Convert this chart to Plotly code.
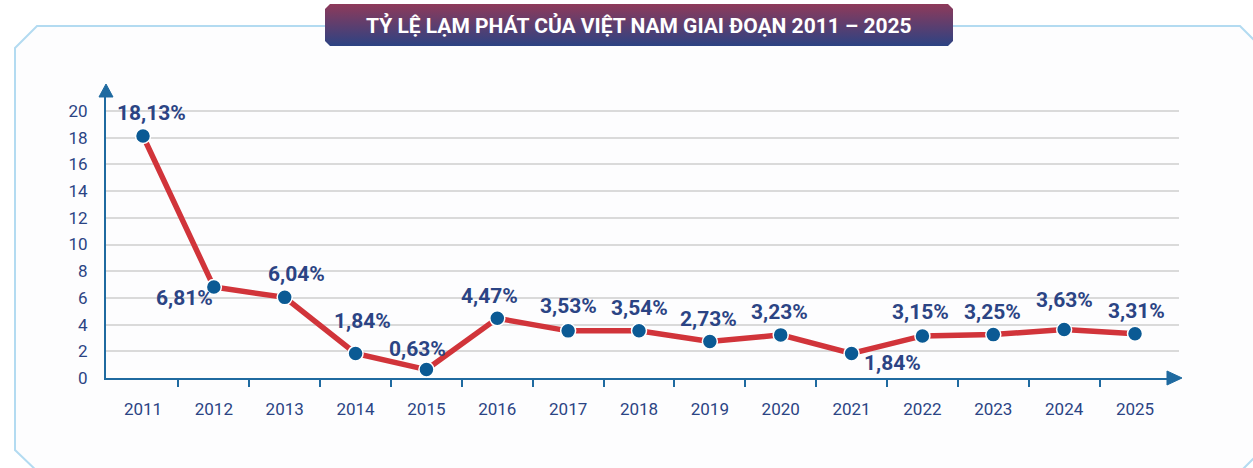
import plotly.graph_objects as go

W, H = 1253, 468          # reference canvas (design units)
FIG_H = 478               # figure height so that the photographed page matches H

years = ["2011", "2012", "2013", "2014", "2015", "2016", "2017", "2018",
         "2019", "2020", "2021", "2022", "2023", "2024", "2025"]
inflation = [18.13, 6.81, 6.04, 1.84, 0.63, 4.47, 3.53, 3.54,
             2.73, 3.23, 1.84, 3.15, 3.25, 3.63, 3.31]
labels = ["18,13%", "6,81%", "6,04%", "1,84%", "0,63%", "4,47%", "3,53%", "3,54%",
          "2,73%", "3,23%", "1,84%", "3,15%", "3,25%", "3,63%", "3,31%"]
title_text = "TỶ LỆ LẠM PHÁT CỦA VIỆT NAM GIAI ĐOẠN 2011 – 2025"
y_ticks = [0, 2, 4, 6, 8, 10, 12, 14, 16, 18, 20]

# label offsets (style, pixels)
label_dx = [8, -29, 12, 7, -9, -8, 0, 0, -1, -1, 41, -2, -1, 0, 1]
label_dy = [23, -11, 23, 32, 21, 22, 25, 23, 23, 23, -10, 24, 23, 30, 23]

NAVY = "#2b4484"
AXIS = "#1f6aa0"


def px(x):
    return x / W


def py(y):
    return 1 - y / H


idx = list(range(len(years)))
x_left, x_right = 106, 1179
y_bottom, y_top = 378, 92
unit_x = (1135 - 143) / 14
unit_y = (y_bottom - 111) / 20
x_range = [-(143 - x_left) / unit_x, 14 + (x_right - 1135) / unit_x]
y_range = [0, (y_bottom - y_top) / unit_y]

fig = go.Figure()

fig.add_trace(go.Scatter(
    x=idx, y=inflation, mode="lines+markers",
    line=dict(color="#d1343a", width=5.5),
    marker=dict(size=15, color="#0b5a94", line=dict(color="white", width=1.5)),
    hoverinfo="skip", showlegend=False, xaxis="x", yaxis="y",
))

# title box with vertical gradient (pixel coordinate overlay axes)
bx0, bx1, by0, by1, c = 325, 953, 4, 46, 5
box_x = [bx0 + c, bx1 - c, bx1, bx1, bx1 - c, bx0 + c, bx0, bx0, bx0 + c]
box_y = [by0, by0, by0 + c, by1 - c, by1, by1, by1 - c, by0 + c, by0]
fig.add_trace(go.Scatter(
    x=box_x, y=box_y, mode="lines", line=dict(width=0, color="rgba(0,0,0,0)"),
    fill="toself",
    fillgradient=dict(type="vertical",
                      colorscale=[[0, "#8e3a5a"], [1, "#2a4384"]],
                      start=by0, stop=by1),
    hoverinfo="skip", showlegend=False, xaxis="x2", yaxis="y2",
))

for i, (v, t) in enumerate(zip(inflation, labels)):
    fig.add_annotation(x=i, y=v, xref="x", yref="y", text=t, showarrow=False,
                       xshift=label_dx[i], yshift=label_dy[i],
                       xanchor="center", yanchor="middle",
                       font=dict(family="Roboto", size=21, color=NAVY, weight="bold"))

fig.add_annotation(x=px(639), y=py(25), xref="paper", yref="paper", text=title_text,
                   showarrow=False, xanchor="center", yanchor="middle",
                   font=dict(family="Roboto", size=21, color="white", weight="bold"))

# frame
frame = [(15, 48), (37, 26), (1240, 26), (1266, 52), (1266, 446), (1238, 474),
         (40, 474), (15, 450)]
path = "M " + " L ".join(f"{px(a):.5f},{py(b):.5f}" for a, b in frame) + " Z"
fig.add_shape(type="path", path=path, xref="paper", yref="paper", layer="below",
              line=dict(color="#b3dbf1", width=2), fillcolor="#fdfdfe")

# axis arrows
tri_y = [(99, 97), (113, 97), (106, 84)]
tri_x = [(1167, 371), (1167, 385), (1182, 378)]
for tri in (tri_y, tri_x):
    p = "M " + " L ".join(f"{px(a):.5f},{py(b):.5f}" for a, b in tri) + " Z"
    fig.add_shape(type="path", path=p, xref="paper", yref="paper", layer="above",
                  line=dict(color=AXIS, width=1), fillcolor=AXIS)

fig.update_layout(
    width=W, height=FIG_H, margin=dict(l=0, r=0, t=0, b=0),
    paper_bgcolor="white", plot_bgcolor="rgba(0,0,0,0)",
    font=dict(family="Roboto", color=NAVY),
    xaxis=dict(domain=[px(x_left), px(x_right)], range=x_range,
               tickvals=idx, ticktext=years, ticks="",
               minor=dict(tickvals=[i + 0.5 for i in idx[:-1]], ticks="outside",
                          ticklen=7, tickwidth=2, tickcolor=AXIS, showgrid=False),
               showgrid=False, showline=True, linecolor=AXIS, linewidth=2,
               ticklabelstandoff=15,
               tickfont=dict(family="Roboto", size=17, color=NAVY),
               zeroline=False, fixedrange=True),
    yaxis=dict(domain=[py(y_bottom), py(y_top)], range=y_range,
               tickvals=y_ticks, showgrid=True, gridcolor="#dadada", gridwidth=2,
               showline=True, linecolor=AXIS, linewidth=2, ticks="",
               ticklabelstandoff=13, zeroline=False,
               tickfont=dict(family="Roboto", size=17, color=NAVY), fixedrange=True),
    xaxis2=dict(domain=[0, 1], range=[0, W], visible=False, anchor="y2", fixedrange=True),
    yaxis2=dict(domain=[0, 1], range=[H, 0], visible=False, anchor="x2", fixedrange=True),
)

fig.write_html("out.html", config={"displayModeBar": False},
               post_script="document.body.style.margin='0';")
